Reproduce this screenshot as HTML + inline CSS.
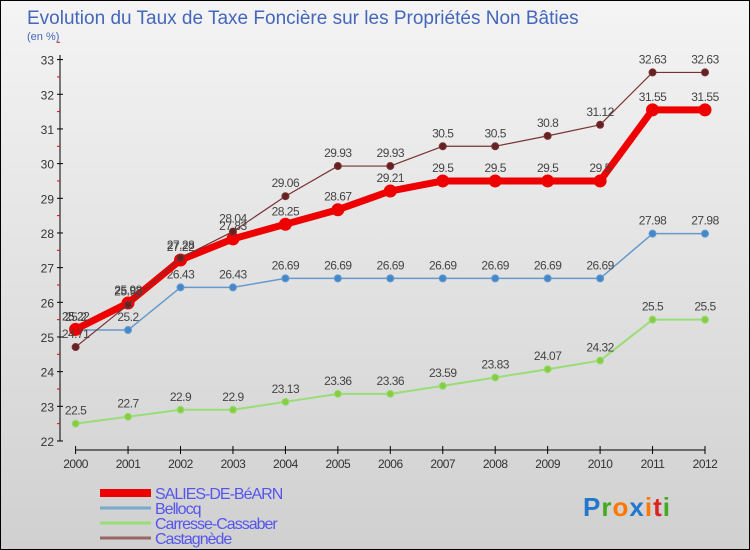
<!DOCTYPE html>
<html><head><meta charset="utf-8"><style>
body{margin:0;width:750px;height:550px;overflow:hidden;font-family:"Liberation Sans",sans-serif}
#c{position:absolute;left:0;top:0;width:748px;height:548px;border:1px solid #000;background:linear-gradient(#f4f4f4,#d0d0d0)}
</style></head><body>
<div id="c">
<svg id="s" width="750" height="550" style="position:absolute;left:-1px;top:-1px">
<text x="27" y="24" font-size="19" fill="#4466bb">Evolution du Taux de Taxe Foncière sur les Propriétés Non Bâties</text>
<text x="27" y="40" font-size="11" fill="#4466bb">(en %)</text>
</svg></div>
<script>
const years=[2000,2001,2002,2003,2004,2005,2006,2007,2008,2009,2010,2011,2012];
const salies=[25.22,25.98,27.22,27.83,28.25,28.67,29.21,29.5,29.5,29.5,29.5,31.55,31.55];
const bellocq=[25.2,25.2,26.43,26.43,26.69,26.69,26.69,26.69,26.69,26.69,26.69,27.98,27.98];
const carresse=[22.5,22.7,22.9,22.9,23.13,23.36,23.36,23.59,23.83,24.07,24.32,25.5,25.5];
const castagnede=[24.71,25.93,27.28,28.04,29.06,29.93,29.93,30.5,30.5,30.8,31.12,32.63,32.63];
const yTicks=[22,23,24,25,26,27,28,29,30,31,32,33];
const names=["SALIES-DE-BéARN","Bellocq","Carresse-Cassaber","Castagnède"];
const s=document.getElementById('s');const NS='http://www.w3.org/2000/svg';
function X(i){return 75.6+i*(705-75.6)/(years.length-1);}
function Y(v){return 441-(v-22)*(441-59.6)/11;}
function el(t,a,p){const e=document.createElementNS(NS,t);for(const k in a)e.setAttribute(k,a[k]);(p||s).appendChild(e);return e;}
// axes
let ya=el('line',{x1:60,y1:55,x2:60,y2:441,stroke:'#000'});

yTicks.forEach(v=>{el('line',{x1:57,x2:63,y1:Y(v),y2:Y(v),stroke:'#000'});
el('line',{x1:57,x2:60,y1:Y(v+0.5),y2:Y(v+0.5),stroke:'#e00'});
let t=el('text',{x:54,y:Y(v)+5,'font-size':12,fill:'#333','text-anchor':'end'});t.textContent=v;
});
let xa=el('line',{x1:75.6,y1:450,x2:705,y2:450,stroke:'#000'});

years.forEach((y,i)=>{el('line',{x1:X(i),x2:X(i),y1:446,y2:454,stroke:'#000'});
let t=el('text',{x:X(i),y:468,'font-size':12,fill:'#333','text-anchor':'middle','letter-spacing':'-0.5'});t.textContent=y;
});
function series(d,col,w,r,fill,name){
 const g=el('g',{});
 el('polyline',{points:d.map((v,i)=>X(i)+','+Y(v)).join(' '),fill:'none',stroke:col,'stroke-width':w,'stroke-linejoin':'round'},g);
 d.forEach((v,i)=>{const c=el('circle',{cx:X(i),cy:Y(v),r:r,fill:fill,stroke:col,'stroke-width':1},g);
 
 const t=el('text',{x:X(i),y:Y(v)-9,'font-size':12,fill:'#444','text-anchor':'middle','letter-spacing':'-0.5'},g);t.textContent=v;});
}
series(carresse,'#99dd77',2,3.5,'#88cc44','carresse-series');
series(bellocq,'#6699cc',1.5,3.5,'#4488cc','bellocq-series');
series(salies,'#ee0000',7,6,'#ee0000','salies-series');
series(castagnede,'#773333',1.2,3.5,'#662222','castagnede-series');
// legend
const lc=['#ee0000','#77aacc','#99dd77','#996666'],lw=[8,3,3,3];
names.forEach((n,i)=>{const y=493+i*15;
 const l=el('line',{x1:100,x2:151,y1:y,y2:y,stroke:lc[i],'stroke-width':lw[i]});
 
 const t=el('text',{x:155,y:y+6,'font-size':16,fill:'#5555ee','letter-spacing':'-1'});t.textContent=n;
 });
const logo=el('text',{x:583,y:516,'font-size':26,'font-weight':'bold','letter-spacing':'1'});

[['P','#2277cc'],['r','#44aa22'],['o','#ff7700'],['x','#2277cc'],['i','#ff7700'],['t','#dd2222'],['i','#44aa22']].forEach(([c,f])=>{const ts=el('tspan',{fill:f},logo);ts.textContent=c;});
</script>
</body></html>
